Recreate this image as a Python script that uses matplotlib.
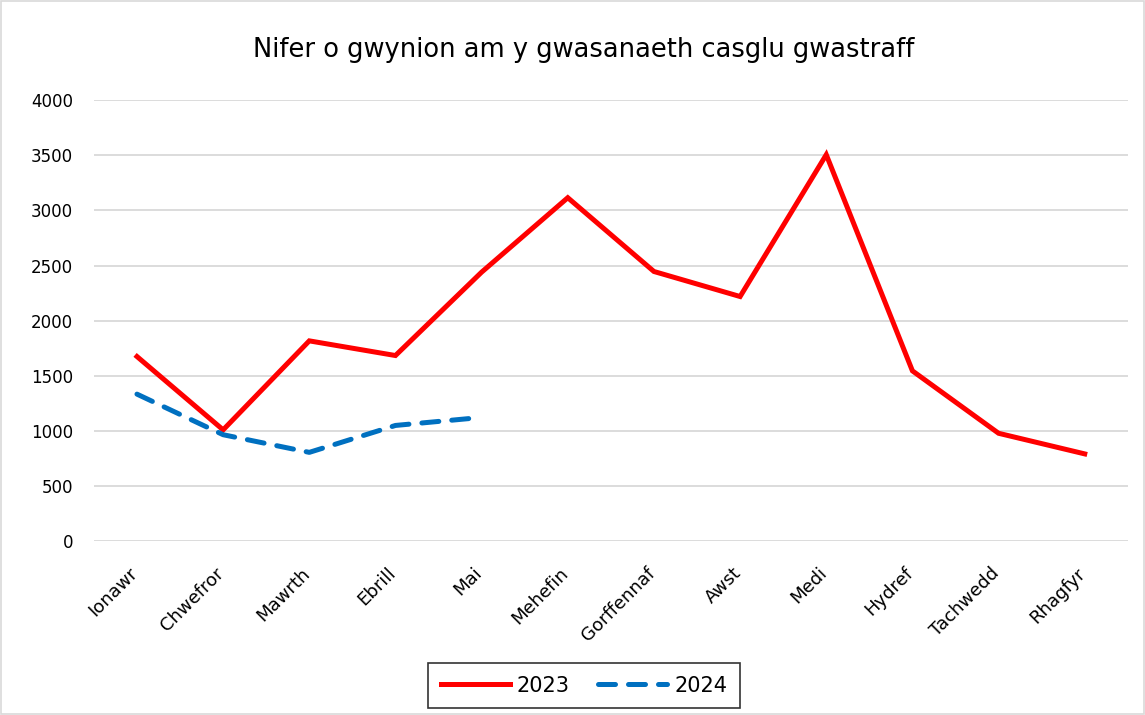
import matplotlib
matplotlib.use("Agg")
import matplotlib.pyplot as plt
import matplotlib.transforms as mtransforms

months = ["Ionawr", "Chwefror", "Mawrth", "Ebrill", "Mai", "Mehefin",
          "Gorffennaf", "Awst", "Medi", "Hydref", "Tachwedd", "Rhagfyr"]
values_2023 = [1675, 1010, 1817, 1684, 2440, 3115, 2446, 2219, 3505, 1545, 979, 792]
values_2024 = [1334, 966, 806, 1050, 1123]
yticks = [0, 500, 1000, 1500, 2000, 2500, 3000, 3500, 4000]
title = "Nifer o gwynion am y gwasanaeth casglu gwastraff"

plt.rcParams['font.family'] = ['DejaVu Sans']

fig = plt.figure(figsize=(11.45, 7.15), dpi=100)
ax = fig.add_axes([0.082, 0.243, 0.903, 0.617])

x23 = list(range(len(values_2023)))
x24 = list(range(len(values_2024)))
ax.plot(x23, values_2023, color="#FF0000", lw=3.6, label="2023",
        solid_joinstyle="miter")
ax.plot(x24, values_2024, color="#0070C0", lw=3.6, ls=(0, (3.4, 2.6)),
        dash_capstyle="round", label="2024")

ax.set_xlim(-0.5, len(months) - 0.5)
ax.set_ylim(0, 4000)
ax.set_yticks(yticks)
ax.set_yticklabels([str(v) for v in yticks], fontsize=12)
ax.set_xticks(x23)
ax.set_xticklabels(months, rotation=45, ha="right", va="center",
                   rotation_mode="anchor", fontsize=13)
ax.tick_params(axis="y", length=0, pad=15)
ax.tick_params(axis="x", length=0, pad=21)
offset = mtransforms.ScaledTranslation(-0.02, 0, fig.dpi_scale_trans)
for lab in ax.get_xticklabels():
    lab.set_transform(lab.get_transform() + offset)
ax.grid(axis="y", color="#D9D9D9", lw=1.3)
ax.set_axisbelow(True)
for s in ax.spines.values():
    s.set_visible(False)

fig.suptitle(title, fontsize=18.5, x=0.51, y=0.948)

leg = ax.legend(loc="center", bbox_to_anchor=(0.474, -0.327), ncol=2,
                fontsize=15, frameon=True, fancybox=False, handlelength=3.3,
                handletextpad=0.35, columnspacing=1.35, borderpad=0.6)
leg.get_frame().set_edgecolor("black")
leg.get_frame().set_linewidth(1.2)

border = plt.Rectangle((0.001, 0.001), 0.998, 0.998, transform=fig.transFigure,
                       fill=False, edgecolor="#D9D9D9", lw=1.2)
fig.patches.append(border)

fig.savefig("out.png", dpi=100)
